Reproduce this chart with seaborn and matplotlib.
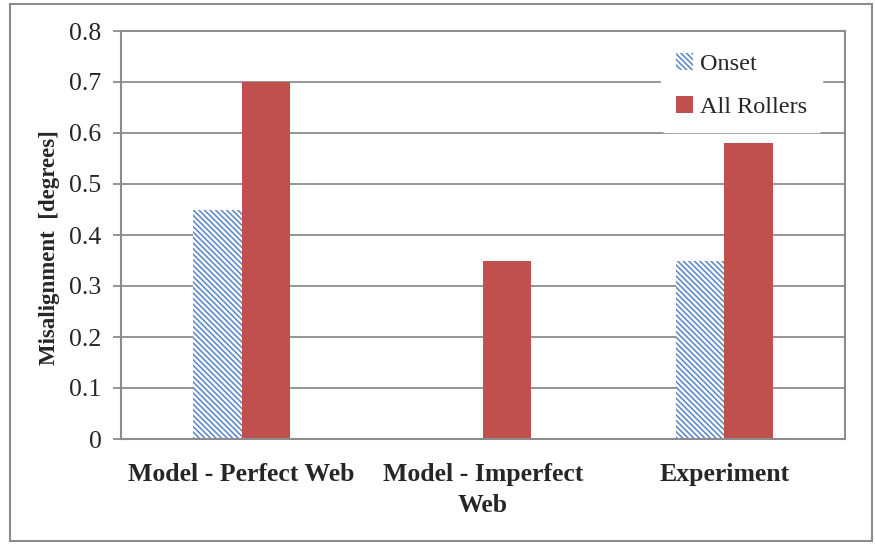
import pandas as pd
import numpy as np
import seaborn as sns
from matplotlib import pyplot as plt
from matplotlib.patches import Rectangle

# data
categories = ["Model - Perfect Web", "Model - Imperfect\nWeb", "Experiment"]
onset = [0.45, 0.0, 0.35]
all_rollers = [0.70, 0.35, 0.58]

df = pd.DataFrame({
    "case": categories * 2,
    "series": ["Onset"] * 3 + ["All Rollers"] * 3,
    "value": onset + all_rollers,
})

sns.set_style("white")
plt.rcParams['font.family'] = ['Liberation Serif', 'DejaVu Serif']
plt.rcParams['hatch.linewidth'] = 1.1

fig = plt.figure(figsize=(8.75, 5.5), dpi=100)
ax = fig.add_axes([121 / 875, 1 - 439 / 550, (845 - 121) / 875, (439 - 31) / 550])

gray = "#8c8c8f"
blue = "#5585c8"
red = "#c0504d"
hatch = "\\\\\\\\\\\\"

sns.barplot(data=df, x="case", y="value", hue="series", order=categories,
            hue_order=["Onset", "All Rollers"], palette=["white", red],
            width=0.4, saturation=1, ax=ax, legend=True, linewidth=0)

# hatch the onset bars
for bar in ax.containers[0]:
    bar.set_hatch(hatch)
    bar.set_edgecolor(blue)
    bar.set_facecolor("white")
    bar.set_linewidth(0)

ax.set_ylim(0, 0.8)
ax.set_yticks(np.arange(0, 0.81, 0.1))
ax.set_yticklabels(["0"] + [f"{v:.1f}" for v in np.arange(0.1, 0.81, 0.1)])
ax.yaxis.grid(True, color=gray, linewidth=1.3)
ax.set_axisbelow(True)
ax.set_xlim(-0.5, 2.5)

for s in ax.spines.values():
    s.set_color(gray)
    s.set_linewidth(1.5)

ax.tick_params(axis="y", left=True, length=6, color=gray, width=1.3, labelsize=18.5, pad=8)
ax.tick_params(axis="x", bottom=False, labelsize=18.5, pad=14)
for lab in ax.get_xticklabels():
    lab.set_fontweight("bold")
    lab.set_linespacing(1.45)

ax.set_xlabel("")
ax.set_ylabel("Misalignment  [degrees]", fontsize=16.5, fontweight="bold")
ax.yaxis.set_label_coords(-0.084, 0.468)

leg = ax.legend(loc="upper right", bbox_to_anchor=(0.985, 1.012), frameon=True,
                fontsize=17.5, handlelength=0.7, handleheight=0.7, handletextpad=0.3,
                labelspacing=0.85, borderpad=0.6)
leg.get_frame().set_edgecolor("white")
leg.get_frame().set_facecolor("white")
leg.get_frame().set_alpha(1)
h = leg.legend_handles
h[0].set_hatch(hatch)
h[0].set_edgecolor(blue)
h[0].set_facecolor("white")
h[0].set_linewidth(0)

# outer frame around the whole figure
fig.patches.append(Rectangle((10 / 875, 9 / 550), 862 / 875, 537 / 550,
                             transform=fig.transFigure, fill=False,
                             edgecolor=gray, linewidth=1.5))

plt.savefig("out.png", dpi=100)
